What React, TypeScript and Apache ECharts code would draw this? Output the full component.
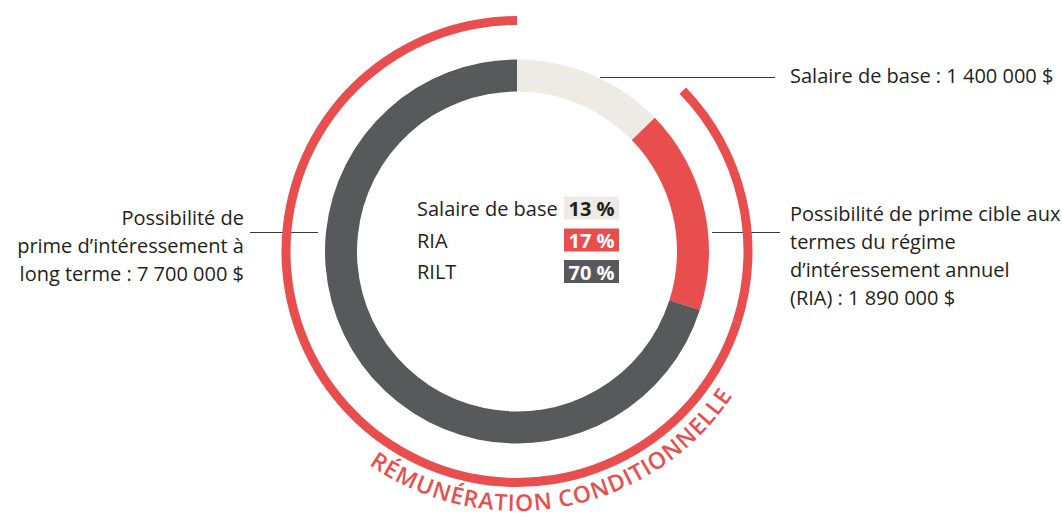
import React, { useEffect, useRef } from "react";
import * as echarts from "echarts";

// ---- data ----
const categories = ["Salaire de base", "RIA", "RILT"];
const amounts = [1400000, 1890000, 7700000];
const percentLabels = ["13 %", "17 %", "70 %"];
const calloutTexts = [
  ["Salaire de base : 1 400 000 $"],
  ["Possibilité de prime cible aux", "termes du régime", "d’intéressement annuel", "(RIA) : 1 890 000 $"],
  ["Possibilité de", "prime d’intéressement à", "long terme : 7 700 000 $"],
];
const arcTitle = "RÉMUNÉRATION CONDITIONNELLE";
// outer ring: which slices belong to the "conditional" arc
const conditional = [false, true, true];

// ---- styling ----
const sliceColors = ["#EEEAE4", "#E94E4E", "#58595B"];
const badgeTextColors = ["#231F20", "#FFFFFF", "#FFFFFF"];
const RED = "#E94E4E";
const TEXT = "#231F20";
const FONT = '"Open Sans", "Noto Sans", sans-serif';

const CX = 517;
const CY = 251.5;

function buildArcLetters() {
  const font = `600 23px ${FONT}`;
  const canvas = document.createElement("canvas");
  const ctx = canvas.getContext("2d")!;
  ctx.font = font;
  const chars = Array.from(arcTitle);
  const widths = chars.map((c) => ctx.measureText(c).width);
  const rho = 250.5;
  const spanDeg = 88; // first to last letter centre
  const midDeg = 280.8;
  const base = widths.reduce((a, b) => a + b, 0) - widths[0] / 2 - widths[widths.length - 1] / 2;
  const target = (spanDeg * Math.PI) / 180 * rho;
  const spacing = (target - base) / (chars.length - 1);
  const start = (midDeg - spanDeg / 2) * Math.PI / 180;
  const els: any[] = [];
  let dist = 0;
  chars.forEach((c, i) => {
    if (i > 0) dist += widths[i - 1] / 2 + widths[i] / 2 + spacing;
    const th = start + dist / rho;
    els.push({
      type: "text",
      x: CX + rho * Math.cos(th),
      y: CY - rho * Math.sin(th),
      rotation: th - (3 * Math.PI) / 2,
      silent: true,
      style: { text: c, fill: RED, font, lineHeight: 17, align: "center", verticalAlign: "middle" },
    });
  });
  return els;
}

export default function App() {
  const ref = useRef<HTMLDivElement>(null);
  useEffect(() => {
    if (!ref.current) return;
    const chart = echarts.init(ref.current, null, { renderer: "svg" });

    const textFont = `400 20px ${FONT}`;
    const boldFont = `700 20px ${FONT}`;

    const legendY = [208, 240, 271.5];
    const legendEls: any[] = [];
    categories.forEach((name, i) => {
      legendEls.push({
        type: "text",
        silent: true,
        style: { text: name, x: 417, y: legendY[i], fill: TEXT, font: textFont, align: "left", verticalAlign: "middle" },
      });
      legendEls.push({
        type: "rect",
        silent: true,
        shape: { x: 564, y: legendY[i] - 11.5, width: 55, height: 23 },
        style: { fill: sliceColors[i] },
      });
      legendEls.push({
        type: "text",
        silent: true,
        style: { text: percentLabels[i], x: 591.5, y: legendY[i] + 0.5, fill: badgeTextColors[i], font: boldFont, align: "center", verticalAlign: "middle" },
      });
    });

    const lineStyle = { stroke: "#3A3A3A", lineWidth: 1 };
    const callouts: any[] = [
      { type: "line", silent: true, shape: { x1: 600, y1: 77.5, x2: 775, y2: 77.5 }, style: lineStyle },
      { type: "line", silent: true, shape: { x1: 712, y1: 232.5, x2: 780, y2: 232.5 }, style: lineStyle },
      { type: "line", silent: true, shape: { x1: 250, y1: 232.5, x2: 318, y2: 232.5 }, style: lineStyle },
      {
        type: "text", silent: true,
        style: { text: calloutTexts[0].join("\n"), x: 790, y: 75, fill: TEXT, font: textFont, align: "left", verticalAlign: "middle" },
      },
      {
        type: "text", silent: true,
        style: { text: calloutTexts[1].join("\n"), x: 790, y: 199, fill: TEXT, font: textFont, lineHeight: 28, align: "left", verticalAlign: "top" },
      },
      {
        type: "text", silent: true,
        style: { text: calloutTexts[2].join("\n"), x: 244, y: 203, fill: TEXT, font: textFont, lineHeight: 28, align: "right", verticalAlign: "top" },
      },
    ];

    chart.setOption({
      animation: false,
      backgroundColor: "#FFFFFF",
      series: [
        {
          type: "pie",
          center: [CX, CY],
          radius: [160, 192],
          startAngle: 90,
          clockwise: true,
          silent: true,
          label: { show: false },
          labelLine: { show: false },
          emphasis: { disabled: true },
          itemStyle: { borderWidth: 0 },
          data: categories.map((n, i) => ({ name: n, value: amounts[i], itemStyle: { color: sliceColors[i] } })),
        },
        {
          type: "pie",
          center: [CX, CY],
          radius: [226.5, 235.5],
          startAngle: 90,
          clockwise: true,
          silent: true,
          label: { show: false },
          labelLine: { show: false },
          emphasis: { disabled: true },
          itemStyle: { borderWidth: 0 },
          data: categories.map((n, i) => ({
            name: n,
            value: amounts[i],
            itemStyle: { color: conditional[i] ? RED : "rgba(0,0,0,0)" },
          })),
        },
      ],
      graphic: { elements: [...legendEls, ...callouts, ...buildArcLetters()] },
    });
    return () => chart.dispose();
  }, []);
  return <div ref={ref} style={{ position: "fixed", left: 0, top: 0, width: 1062, height: 517 }} />;
}
